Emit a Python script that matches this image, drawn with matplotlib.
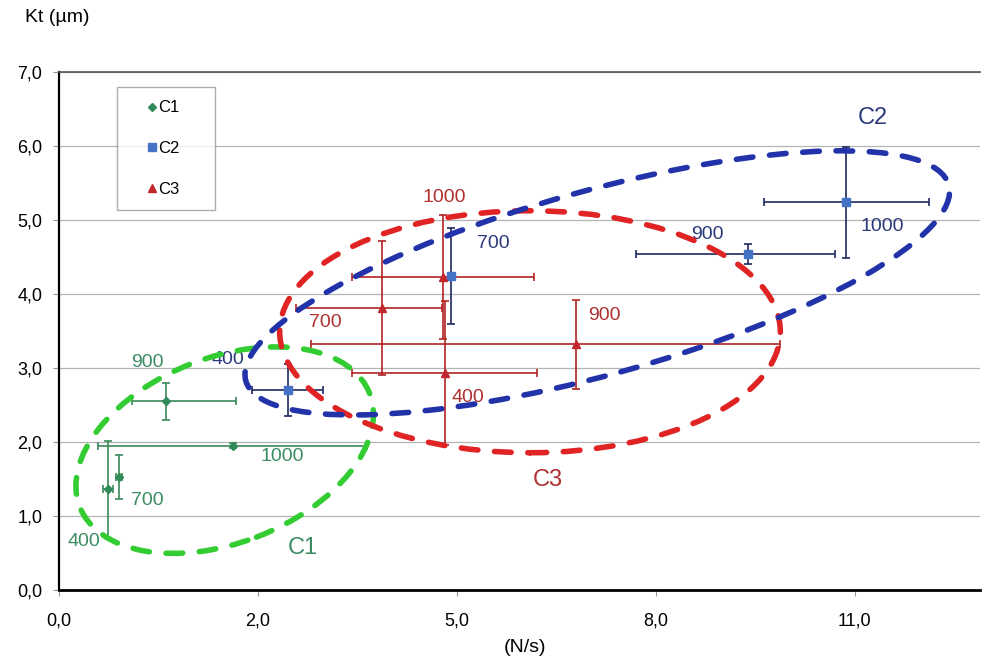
import matplotlib
matplotlib.use('Agg')
import matplotlib.pyplot as plt
from matplotlib.patches import Ellipse

plt.rcParams['font.family'] = ['Liberation Sans', 'DejaVu Sans']

# ---- data ----
point_names = ['400', '700', '900', '1000']

c1_x = [0.68, 0.83, 1.48, 2.40]
c1_y = [1.36, 1.53, 2.55, 1.95]
c1_xerr_lo = [0.07, 0.04, 0.47, 1.86]
c1_xerr_hi = [0.07, 0.04, 0.97, 1.86]
c1_yerr = [0.66, 0.30, 0.25, 0.03]

c2_x = [3.16, 5.42, 9.52, 10.88]
c2_y = [2.70, 4.24, 4.54, 5.24]
c2_xerr_lo = [0.49, 0.03, 1.55, 1.14]
c2_xerr_hi = [0.49, 0.03, 1.20, 1.14]
c2_yerr = [0.35, 0.65, 0.14, 0.75]

c3_x = [5.33, 4.46, 7.14, 5.31]
c3_y = [2.93, 3.81, 3.32, 4.23]
c3_xerr_lo = [1.28, 1.19, 3.65, 1.26]
c3_xerr_hi = [1.28, 0.83, 2.82, 1.26]
c3_yerr = [0.97, 0.90, 0.60, 0.84]

x_ticks = [0, 2.75, 5.5, 8.25, 11]
x_tick_labels = ['0,0', '2,0', '5,0', '8,0', '11,0']
y_ticks = [0, 1, 2, 3, 4, 5, 6, 7]
y_tick_labels = ['0,0', '1,0', '2,0', '3,0', '4,0', '5,0', '6,0', '7,0']

# ---- figure ----
fig = plt.figure(figsize=(9.82, 6.63), dpi=100)
ax = fig.add_axes([59 / 982, 73 / 663, 921 / 982, 518 / 663])
ax.set_xlim(0, 12.73)
ax.set_ylim(0, 7)

ax.set_yticks(y_ticks, y_tick_labels, fontsize=13)
ax.set_xticks(x_ticks, x_tick_labels, fontsize=13)
ax.tick_params(axis='both', length=4, width=0.8, color='#999999')
ax.tick_params(axis='x', pad=12)
ax.tick_params(axis='y', pad=8)
ax.grid(axis='y', color='#b4b4b4', linewidth=0.9)
ax.set_axisbelow(True)

ax.spines['right'].set_visible(False)
ax.spines['top'].set_color('#555555')
ax.spines['top'].set_linewidth(1.2)
ax.spines['left'].set_color('black')
ax.spines['left'].set_linewidth(1.6)
ax.spines['bottom'].set_color('black')
ax.spines['bottom'].set_linewidth(2.0)

series = [
    ('C1', c1_x, c1_y, c1_xerr_lo, c1_xerr_hi, c1_yerr, 'D', 4, '#2e8b57', '#3a8a5a', '#3c8c64'),
    ('C2', c2_x, c2_y, c2_xerr_lo, c2_xerr_hi, c2_yerr, 's', 6, '#4472c4', '#1f2a60', '#2b3a7a'),
    ('C3', c3_x, c3_y, c3_xerr_lo, c3_xerr_hi, c3_yerr, '^', 6, '#c0282d', '#b22222', '#b03030'),
]

# label offsets in pixels (per point, same order as point_names)
label_offsets = {
    'C1': [(-24, -52), (28, -24), (-19, 39), (50, -11)],
    'C2': [(-60, 31), (42, 33), (-40, 20), (36, -24)],
    'C3': [(23, -24), (-56, -14), (29, 29), (1, 79)],
}

for name, xs, ys, xlo, xhi, yerr, mk, ms, mcol, ecol, tcol in series:
    ax.errorbar(xs, ys, xerr=[xlo, xhi], yerr=yerr, fmt='none',
                ecolor=ecol, elinewidth=1.2, capsize=3, capthick=1.2, zorder=3)
    ax.plot(xs, ys, linestyle='none', marker=mk, markersize=ms,
            color=mcol, label=name, zorder=4)
    for i, lab in enumerate(point_names):
        ax.annotate(lab, (xs[i], ys[i]), xytext=label_offsets[name][i],
                    textcoords='offset pixels', ha='center', va='center',
                    fontsize=14, color=tcol, zorder=5)

# hand-drawn grouping ellipses
def dashed_ellipse(cx, cy, w, h, ang, color):
    e = Ellipse((cx, cy), w, h, angle=ang, fill=False, edgecolor=color,
                linewidth=4.0, linestyle=(0, (3.0, 3.0)), zorder=6)
    e.set_capstyle('round')
    ax.add_patch(e)

dashed_ellipse(2.29, 1.89, 4.29, 2.51, 20.5, '#33cc33')
dashed_ellipse(6.51, 3.49, 6.92, 3.27, 0, '#e02424')
dashed_ellipse(7.44, 4.15, 10.07, 2.49, 15.2, '#2233aa')

ax.text(3.37, 0.57, 'C1', ha='center', va='center', fontsize=17, color='#3c8c64')
ax.text(11.25, 6.38, 'C2', ha='center', va='center', fontsize=17, color='#2b3a7a')
ax.text(6.76, 1.49, 'C3', ha='center', va='center', fontsize=17, color='#b03030')

leg = ax.legend(loc='upper left', bbox_to_anchor=(0.063, 0.5, 0.106, 0.471),
                mode='expand', frameon=True, fancybox=False, fontsize=12,
                labelspacing=1.55, handlelength=2.6, handletextpad=-0.95,
                borderpad=0.8, borderaxespad=0, markerscale=0.9)
leg.get_frame().set_edgecolor('#999999')
leg.get_frame().set_linewidth(1.0)

fig.text(57 / 982, 1 - 18 / 663, 'Kt (µm)', ha='center', va='center', fontsize=14)
fig.text(525 / 982, 1 - 648 / 663, '(N/s)', ha='center', va='center', fontsize=14)

fig.savefig('out.png', dpi=100, facecolor='white')
